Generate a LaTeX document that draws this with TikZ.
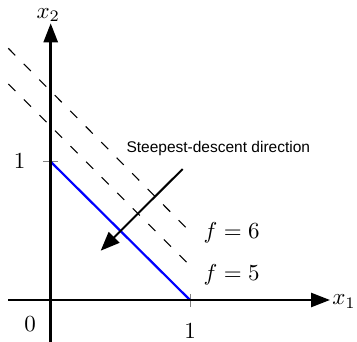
\documentclass[tikz,border=0pt]{standalone}
\usepackage{fontspec}
\setsansfont{Liberation Sans}
\usetikzlibrary{arrows.meta}
\newcommand{\mylabelmath}[1]{\scalebox{2.3}{$#1$}}
\begin{document}
\begin{tikzpicture}[x=1pt,y=-1pt,
 axis/.style={line width=2.6pt,-{Triangle[length=19pt,width=14pt]}},
 lvl/.style={line width=1.1pt,dash pattern=on 10pt off 12pt},
 feas/.style={blue,line width=2.2pt},
 desc/.style={line width=2pt,-{Triangle[length=19pt,width=15pt]}},
 tickm/.style={gray,line width=0.8pt},
 mlab/.style={inner sep=0pt,anchor=base},
 slab/.style={font=\sffamily\fontsize{15.5}{18}\selectfont,inner sep=0pt,anchor=base}]
\useasboundingbox (0,0) rectangle (357,342);
% coordinates
\coordinate (yb) at (50.7,345);
\coordinate (yt) at (50.7,23.3);
\coordinate (xl) at (8.3,300);
\coordinate (xr) at (330,300);
\coordinate (b1) at (50.7,161.7);
\coordinate (b2) at (190,300);
\coordinate (u1s) at (8.3,48.3);
\coordinate (u1e) at (188.3,230);
\coordinate (u2s) at (8.3,84);
\coordinate (u2e) at (188.3,264);
\coordinate (ds) at (182.7,169);
\coordinate (dt) at (100.7,250.7);
\coordinate (ty1) at (43,161.7);
\coordinate (ty2) at (58,161.7);
\coordinate (tx1) at (190,294);
\coordinate (tx2) at (190,307);
% level sets
\draw[lvl] (u1s) -- (u1e);
\draw[lvl] (u2s) -- (u2e);
% ticks
\draw[tickm] (ty1) -- (ty2);
\draw[tickm] (tx1) -- (tx2);
% feasible line
\draw[feas] (b1) -- (b2);
% axes
\draw[axis] (xl) -- (xr);
\draw[axis] (yb) -- (yt);
% descent direction
\draw[desc] (ds) -- (dt);
% labels
\node[mlab] (lx2) at (48.3,18.3) {\mylabelmath{x_2}};
\node[mlab] (lx1) at (344,305) {\mylabelmath{x_1}};
\node[mlab] (ly1) at (19.5,168.3) {\mylabelmath{1}};
\node[mlab] (l0) at (30,331.7) {\mylabelmath{0}};
\node[mlab] (lx1t) at (190,338.5) {\mylabelmath{1}};
\node[mlab] (f6) at (231.7,238.3) {\mylabelmath{f=6}};
\node[mlab] (f5) at (231.7,280.7) {\mylabelmath{f=5}};
\node[slab] (sd) at (218.3,152.7) {Steepest-descent direction};
\end{tikzpicture}
\end{document}
